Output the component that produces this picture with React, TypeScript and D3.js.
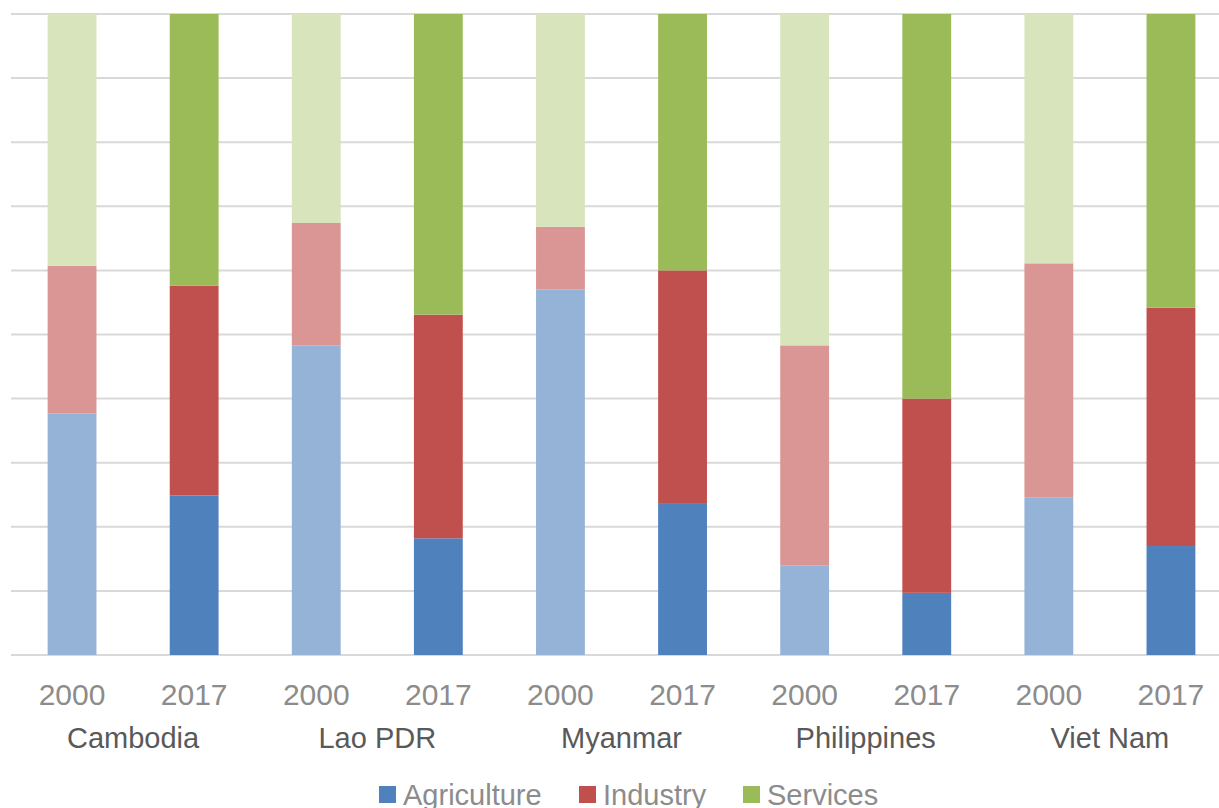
import * as d3 from 'd3'

const countries = ['Cambodia', 'Lao PDR', 'Myanmar', 'Philippines', 'Viet Nam']
const years = ['2000', '2017']
const sectors = ['Agriculture', 'Industry', 'Services']

// sector shares (%) per country, ordered 2000 then 2017
const agriculture = [37.7, 24.9, 48.3, 18.2, 57.0, 23.7, 14.0, 9.7, 24.6, 17.0]
const industry = [23.0, 32.7, 19.1, 34.9, 9.8, 36.3, 34.3, 30.3, 36.5, 37.2]
const services = [39.3, 42.4, 32.6, 46.9, 33.2, 40.0, 51.7, 60.0, 38.9, 45.8]

const darkColors = ['#4f81bd', '#c0504d', '#9bbb59']
const lightColors = ['#95b3d7', '#da9694', '#d8e4bc']

const W = 1219
const H = 808
const margin = { top: 14, right: -13, bottom: 153, left: 11 }
const font = '"Liberation Sans", Arial, sans-serif'

type Row = { key: string; year: string; Agriculture: number; Industry: number; Services: number }

export default function App() {
  const rows: Row[] = []
  countries.forEach((c, ci) =>
    years.forEach((y, yi) => {
      const i = ci * 2 + yi
      rows.push({ key: `${c}-${y}`, year: y, Agriculture: agriculture[i], Industry: industry[i], Services: services[i] })
    }),
  )

  const innerW = W - margin.left - margin.right
  const innerH = H - margin.top - margin.bottom

  const x = d3.scaleBand<string>().domain(rows.map((r) => r.key)).range([0, innerW]).paddingInner(0.6).paddingOuter(0.3)
  const xc = d3.scaleBand<string>().domain(countries).range([0, innerW])
  const y = d3.scaleLinear().domain([0, 100]).range([innerH, 0])
  const stack = d3.stack<Row>().keys(sectors)(rows)
  const ticks = d3.range(0, 101, 10)

  const legendX = [379, 579, 743]

  return (
    <svg width={W} height={H} style={{ position: 'absolute', left: 0, top: 0, background: '#fff' }}>
      <g transform={`translate(${margin.left},${margin.top})`}>
        {ticks.map((t) => (
          <line key={t} x1={0} x2={innerW} y1={y(t)} y2={y(t)} stroke="#d9d9d9" strokeWidth={2} />
        ))}
        {stack.map((layer, si) =>
          layer.map((d) => (
            <rect
              key={`${si}-${d.data.key}`}
              x={x(d.data.key)}
              width={x.bandwidth()}
              y={y(d[1])}
              height={y(d[0]) - y(d[1])}
              fill={d.data.year === '2000' ? lightColors[si] : darkColors[si]}
            />
          )),
        )}
        {rows.map((r) => (
          <text
            key={r.key}
            x={(x(r.key) ?? 0) + x.bandwidth() / 2}
            y={innerH + 50}
            textAnchor="middle"
            fontFamily={font}
            fontSize={30}
            fill="#8c8c8c"
          >
            {r.year}
          </text>
        ))}
        {countries.map((c) => (
          <text
            key={c}
            x={(xc(c) ?? 0) + xc.bandwidth() / 2}
            y={innerH + 93}
            textAnchor="middle"
            fontFamily={font}
            fontSize={29}
            fill="#595959"
          >
            {c}
          </text>
        ))}
      </g>
      {sectors.map((s, i) => (
        <g key={s} transform={`translate(${legendX[i]},786)`}>
          <rect width={17} height={17} fill={darkColors[i]} />
          <text x={24} y={19} fontFamily={font} fontSize={29} fill="#8c8c8c">
            {s}
          </text>
        </g>
      ))}
    </svg>
  )
}
